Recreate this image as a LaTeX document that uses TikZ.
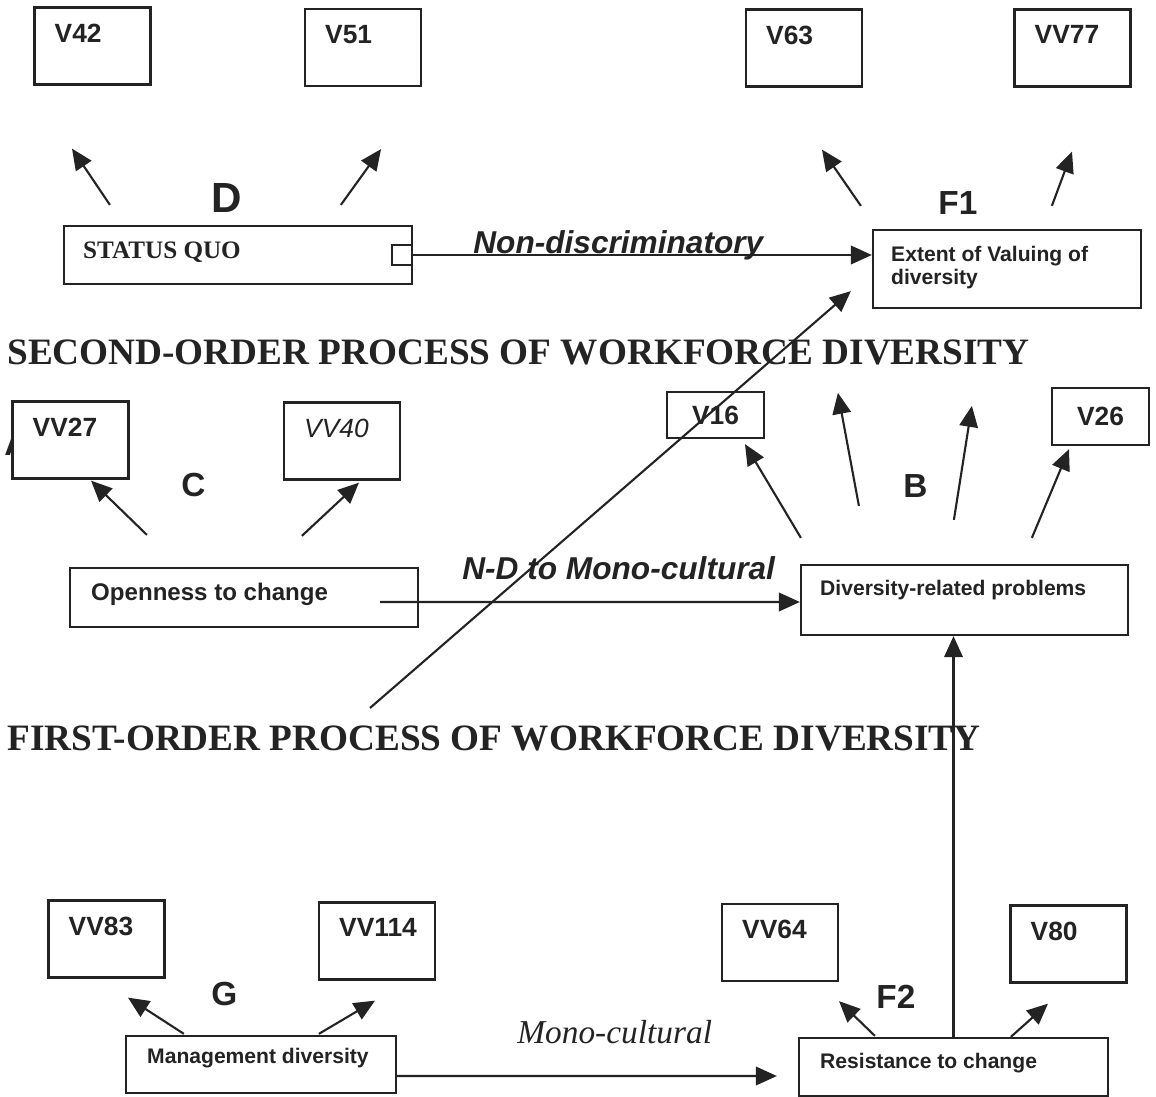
\documentclass[tikz,border=0pt]{standalone}
\usepackage{fontspec}
\setmainfont{Liberation Sans}
\newfontfamily\timesfont{Liberation Serif}
\usepackage{tikz}
\usetikzlibrary{positioning, calc, arrows.meta}
\definecolor{ink}{RGB}{35,35,35}

\begin{document}
\begin{tikzpicture}[x=0.02cm, y=-0.02cm,
    box/.style = {draw=ink, fill=white, line width=1.3pt, inner sep=0pt},
    txt/.style = {text=ink, inner sep=0pt, font=\fontsize{12}{13.1}\selectfont\bfseries},
    ind/.style = {box, minimum width=2.32cm, minimum height=1.54cm,
        label={[txt, font=\fontsize{15}{17}\selectfont\bfseries, anchor=north west, xshift=0.42cm, yshift=-0.34cm]north west:#1}},
    fac/.style = {text=ink, inner sep=0pt, anchor=base west, font=\fontsize{19}{22}\selectfont\bfseries},
    rel/.style = {text=ink, inner sep=0pt, anchor=base west, font=\fontsize{18}{21}\selectfont\bfseries\itshape},
    heading/.style = {text=ink, inner sep=0pt, anchor=base west, font=\timesfont\fontsize{21.2}{25}\selectfont\bfseries},
    arr/.style = {draw=ink, line width=1.2pt, -{Triangle[length=0.42cm, width=0.37cm]}}]
    \useasboundingbox (0,0) rectangle (1156,1097);

    % Headings
    \node[heading] (second) at (7,365) {SECOND-ORDER PROCESS OF WORKFORCE DIVERSITY};
    \node[heading] (first) at (7,750) {FIRST-ORDER PROCESS OF WORKFORCE DIVERSITY};

    % Factor letters (A sits behind VV27)
    \node[fac] (lblA) at (4,456) {A};
    \node[fac, font=\fontsize{24}{28}\selectfont\bfseries] (lblD) at (211,213) {D};
    \node[fac] (lblF1) at (938,215) {F1};
    \node[fac] (lblC) at (181,497) {C};
    \node[fac] (lblB) at (903,498) {B};
    \node[fac] (lblG) at (211,1005) {G};
    \node[fac] (lblF2) at (876,1008) {F2};

    % Indicators
    \node[ind=V42] (v42) at (92.5,46) {};
    \node[ind=V51] (v51) at (363,47.5) {};
    \node[ind=V63] (v63) at (804,48) {};
    \node[ind=VV77] (vv77) at (1072.5,48) {};
    \node[ind=VV27] (vv27) at (70.5,440) {};
    \node[ind={\mdseries\itshape VV40}] (vv40) at (342,441) {};
    \node[ind=VV83] (vv83) at (106.5,939) {};
    \node[ind=VV114] (vv114) at (377,941) {};
    \node[ind=VV64] (vv64) at (780,942.5) {};
    \node[ind=V80] (v80) at (1068.5,944) {};
    \node[box, txt, font=\fontsize{15}{17}\selectfont\bfseries, minimum width=1.94cm, minimum height=0.92cm] (v16) at (715.5,415) {V16};
    \node[box, txt, font=\fontsize{15}{17}\selectfont\bfseries, minimum width=1.94cm, minimum height=1.14cm] (v26) at (1100.5,416.5) {V26};

    % Factors
    \node[box, minimum width=6.96cm, minimum height=1.16cm,
        label={[txt, font=\timesfont\fontsize{14.3}{16}\selectfont\bfseries, anchor=west, xshift=0.4cm, yshift=0.06cm]west:STATUS QUO}] (sq) at (238,255) {};
    \node[box, minimum size=0.4cm] (sqport) at (402,255) {};
    \node[box, minimum width=5.36cm, minimum height=1.56cm,
        label={[txt, align=left, anchor=north west, xshift=0.38cm, yshift=-0.34cm]north west:{Extent of Valuing of\\diversity}}] (f1) at (1007,269) {};
    \node[box, minimum width=6.96cm, minimum height=1.18cm,
        label={[txt, font=\fontsize{13.7}{15}\selectfont\bfseries, anchor=west, xshift=0.44cm, yshift=0.07cm]west:Openness to change}] (open) at (244,597.5) {};
    \node[box, minimum width=6.54cm, minimum height=1.4cm,
        label={[txt, anchor=west, xshift=0.4cm, yshift=0.2cm]west:Diversity-related problems}] (div) at (964.5,600) {};
    \node[box, minimum width=5.4cm, minimum height=1.14cm,
        label={[txt, anchor=west, xshift=0.44cm, yshift=0.13cm]west:Management diversity}] (mgmt) at (261,1064.5) {};
    \node[box, minimum width=6.18cm, minimum height=1.16cm,
        label={[txt, anchor=west, xshift=0.44cm, yshift=0.08cm]west:Resistance to change}] (res) at (953.5,1067) {};

    % Path labels
    \node[rel] (nondis) at (473,254) {Non-discriminatory};
    \node[rel] (ndmono) at (462,580) {N-D to Mono-cultural};
    \node[rel, font=\timesfont\fontsize{19}{22}\selectfont\itshape] (mono) at (517,1043) {Mono-cultural};

    % Loadings
    \draw[arr] ($(sq.north west)+(47,-20)$) -- ($(v42.south)+(-20.5,63)$);
    \draw[arr] ($(sq.north west)+(278,-20)$) -- ($(v51.south)+(18,62)$);
    \draw[arr] ($(f1.north west)+(-11,-23)$) -- ($(v63.south)+(18,62)$);
    \draw[arr] ($(f1.north west)+(180,-23)$) -- ($(vv77.south)+(-0.5,64)$);
    \draw[arr] ($(open.north west)+(78,-32)$) -- ($(vv27.south)+(20.5,1)$);
    \draw[arr] ($(open.north west)+(233,-31)$) -- ($(vv40.south)+(17,2)$);
    \draw[arr] ($(div.north west)+(1,-26)$) -- ($(v16.south)+(29.5,5)$);
    \draw[arr] ($(div.north west)+(59,-58)$) -- ($(div.north west)+(38,-171)$);
    \draw[arr] ($(div.north west)+(154,-44)$) -- ($(div.north west)+(172,-158)$);
    \draw[arr] ($(div.north west)+(232,-26)$) -- ($(v26.south)+(-31.5,3)$);
    \draw[arr] ($(mgmt.north west)+(59,-1)$) -- ($(vv83.south)+(21.5,19)$);
    \draw[arr] ($(mgmt.north west)+(194,-1)$) -- ($(vv114.south)+(-2,20)$);
    \draw[arr] ($(res.north west)+(77,-1)$) -- ($(vv64.south)+(59,19)$);
    \draw[arr] ($(res.north west)+(213,0)$) -- ($(v80.south)+(-20.5,20)$);

    % Paths between factors
    \draw[arr] (sqport.east) -- (sqport.east -| f1.west);
    \draw[arr] ($(open.east)+(-39,4.5)$) -- ($(div.west)+(0,2)$);
    \draw[arr, shorten >=0.42cm] ($(mgmt.east)+(0,11.5)$) -- ($(res.west)+(0,9)$);
    \draw[arr] (res.north) -- (res.north |- div.south);
    \coordinate (fo) at (370,708);
    \draw[arr] (fo) -- ($(f1.south west)+(-21,-18)$);
\end{tikzpicture}
\end{document}
